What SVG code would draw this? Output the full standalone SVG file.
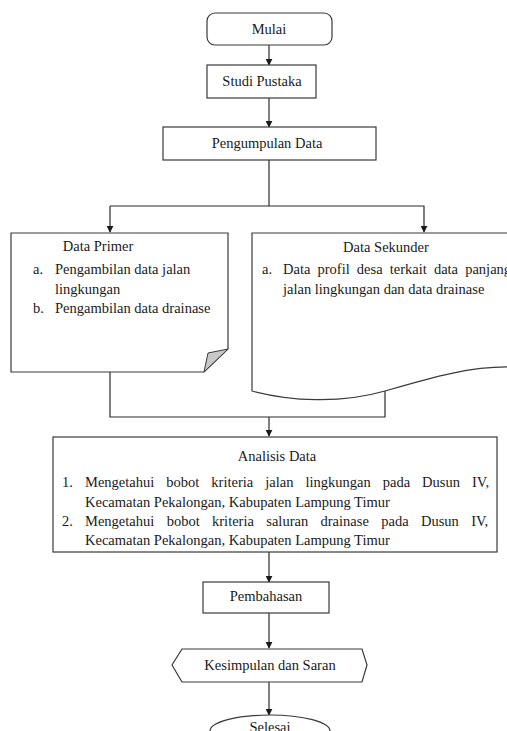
<svg xmlns="http://www.w3.org/2000/svg" width="507" height="731" viewBox="0 0 507 731">
<defs>
<style>
.s{fill:#fff;stroke:#3a3a3a;stroke-width:1.2}
.l{fill:none;stroke:#2a2a2a;stroke-width:1.2}
.t{font-family:'Liberation Serif','Times New Roman','DejaVu Serif',serif;font-size:14.5px;fill:#1a1a1a}
.c{text-anchor:middle}
</style>
<marker id="a" viewBox="0 0 10 10" refX="9" refY="5" markerWidth="7" markerHeight="7" markerUnits="userSpaceOnUse" orient="auto"><path d="M0,0 L10,5 L0,10 Z" fill="#1a1a1a"/></marker>
</defs>
<rect width="507" height="731" fill="#fff"/>
<g id="connectors">
<path class="l" d="M269,45 V65" marker-end="url(#a)"/>
<path class="l" d="M269,98 V127" marker-end="url(#a)"/>
<path class="l" d="M269,160 V206"/>
<path class="l" d="M110,206 H424 V232" marker-end="url(#a)"/>
<path class="l" d="M110,206 V232" marker-end="url(#a)"/>
<path class="l" d="M110,372 V417 H385 V391"/>
<path class="l" d="M269,417 V436" marker-end="url(#a)"/>
<path class="l" d="M269,552 V582" marker-end="url(#a)"/>
<path class="l" d="M269,613 V648" marker-end="url(#a)"/>
<path class="l" d="M269,682 V715" marker-end="url(#a)"/>
</g>
<g class="t">
<g id="mulai"><rect class="s" x="207" y="13" width="125" height="32" rx="8"/><text class="c" x="269" y="34">Mulai</text></g>
<g id="studi"><rect class="s" x="207" y="65" width="109" height="33"/><text class="c" x="262" y="86">Studi Pustaka</text></g>
<g id="pengumpulan"><rect class="s" x="163" y="127" width="213" height="33"/><text class="c" x="267" y="148">Pengumpulan Data</text></g>
<g id="primer">
<path class="s" d="M11,233 H228 V349 L204,372 H11 Z"/>
<path d="M204,372 L208,353 L228,349 Z" fill="#c8c8c8" stroke="#3a3a3a" stroke-width="1"/>
<text class="c" x="98" y="251">Data Primer</text>
<text x="33" y="274">a.</text><text x="55" y="274">Pengambilan data jalan</text>
<text x="55" y="294">lingkungan</text>
<text x="33" y="313">b.</text><text x="55" y="313">Pengambilan data drainase</text>
</g>
<g id="sekunder">
<path class="s" d="M252,391 V233 H512 V367 C470,366 430,378 385,391 C340,404 290,401 252,391 Z"/>
<text class="c" x="386" y="252">Data Sekunder</text>
<text x="262" y="274">a.</text>
<text x="283" y="274" word-spacing="3.5">Data profil desa terkait data panjang</text>
<text x="283" y="294">jalan lingkungan dan data drainase</text>
</g>
<g id="analisis">
<rect class="s" x="53" y="437" width="444" height="115"/>
<text class="c" x="277" y="461">Analisis Data</text>
<text x="62" y="487">1.</text>
<text x="85" y="487" word-spacing="8.4">Mengetahui bobot kriteria jalan lingkungan pada Dusun IV,</text>
<text x="85" y="507">Kecamatan Pekalongan, Kabupaten Lampung Timur</text>
<text x="62" y="526">2.</text>
<text x="85" y="526" word-spacing="8.75">Mengetahui bobot kriteria saluran drainase pada Dusun IV,</text>
<text x="85" y="545">Kecamatan Pekalongan, Kabupaten Lampung Timur</text>
</g>
<g id="pembahasan"><rect class="s" x="203" y="582" width="126" height="31"/><text class="c" x="266" y="601">Pembahasan</text></g>
<g id="kesimpulan"><path class="s" d="M182,649 H362 L367,665 L362,682 H182 L172,665 Z"/><text class="c" x="270" y="670">Kesimpulan dan Saran</text></g>
<g id="selesai"><ellipse class="s" cx="270" cy="731" rx="60" ry="16"/><text class="c" x="270" y="732">Selesai</text></g>
</g>
</svg>
